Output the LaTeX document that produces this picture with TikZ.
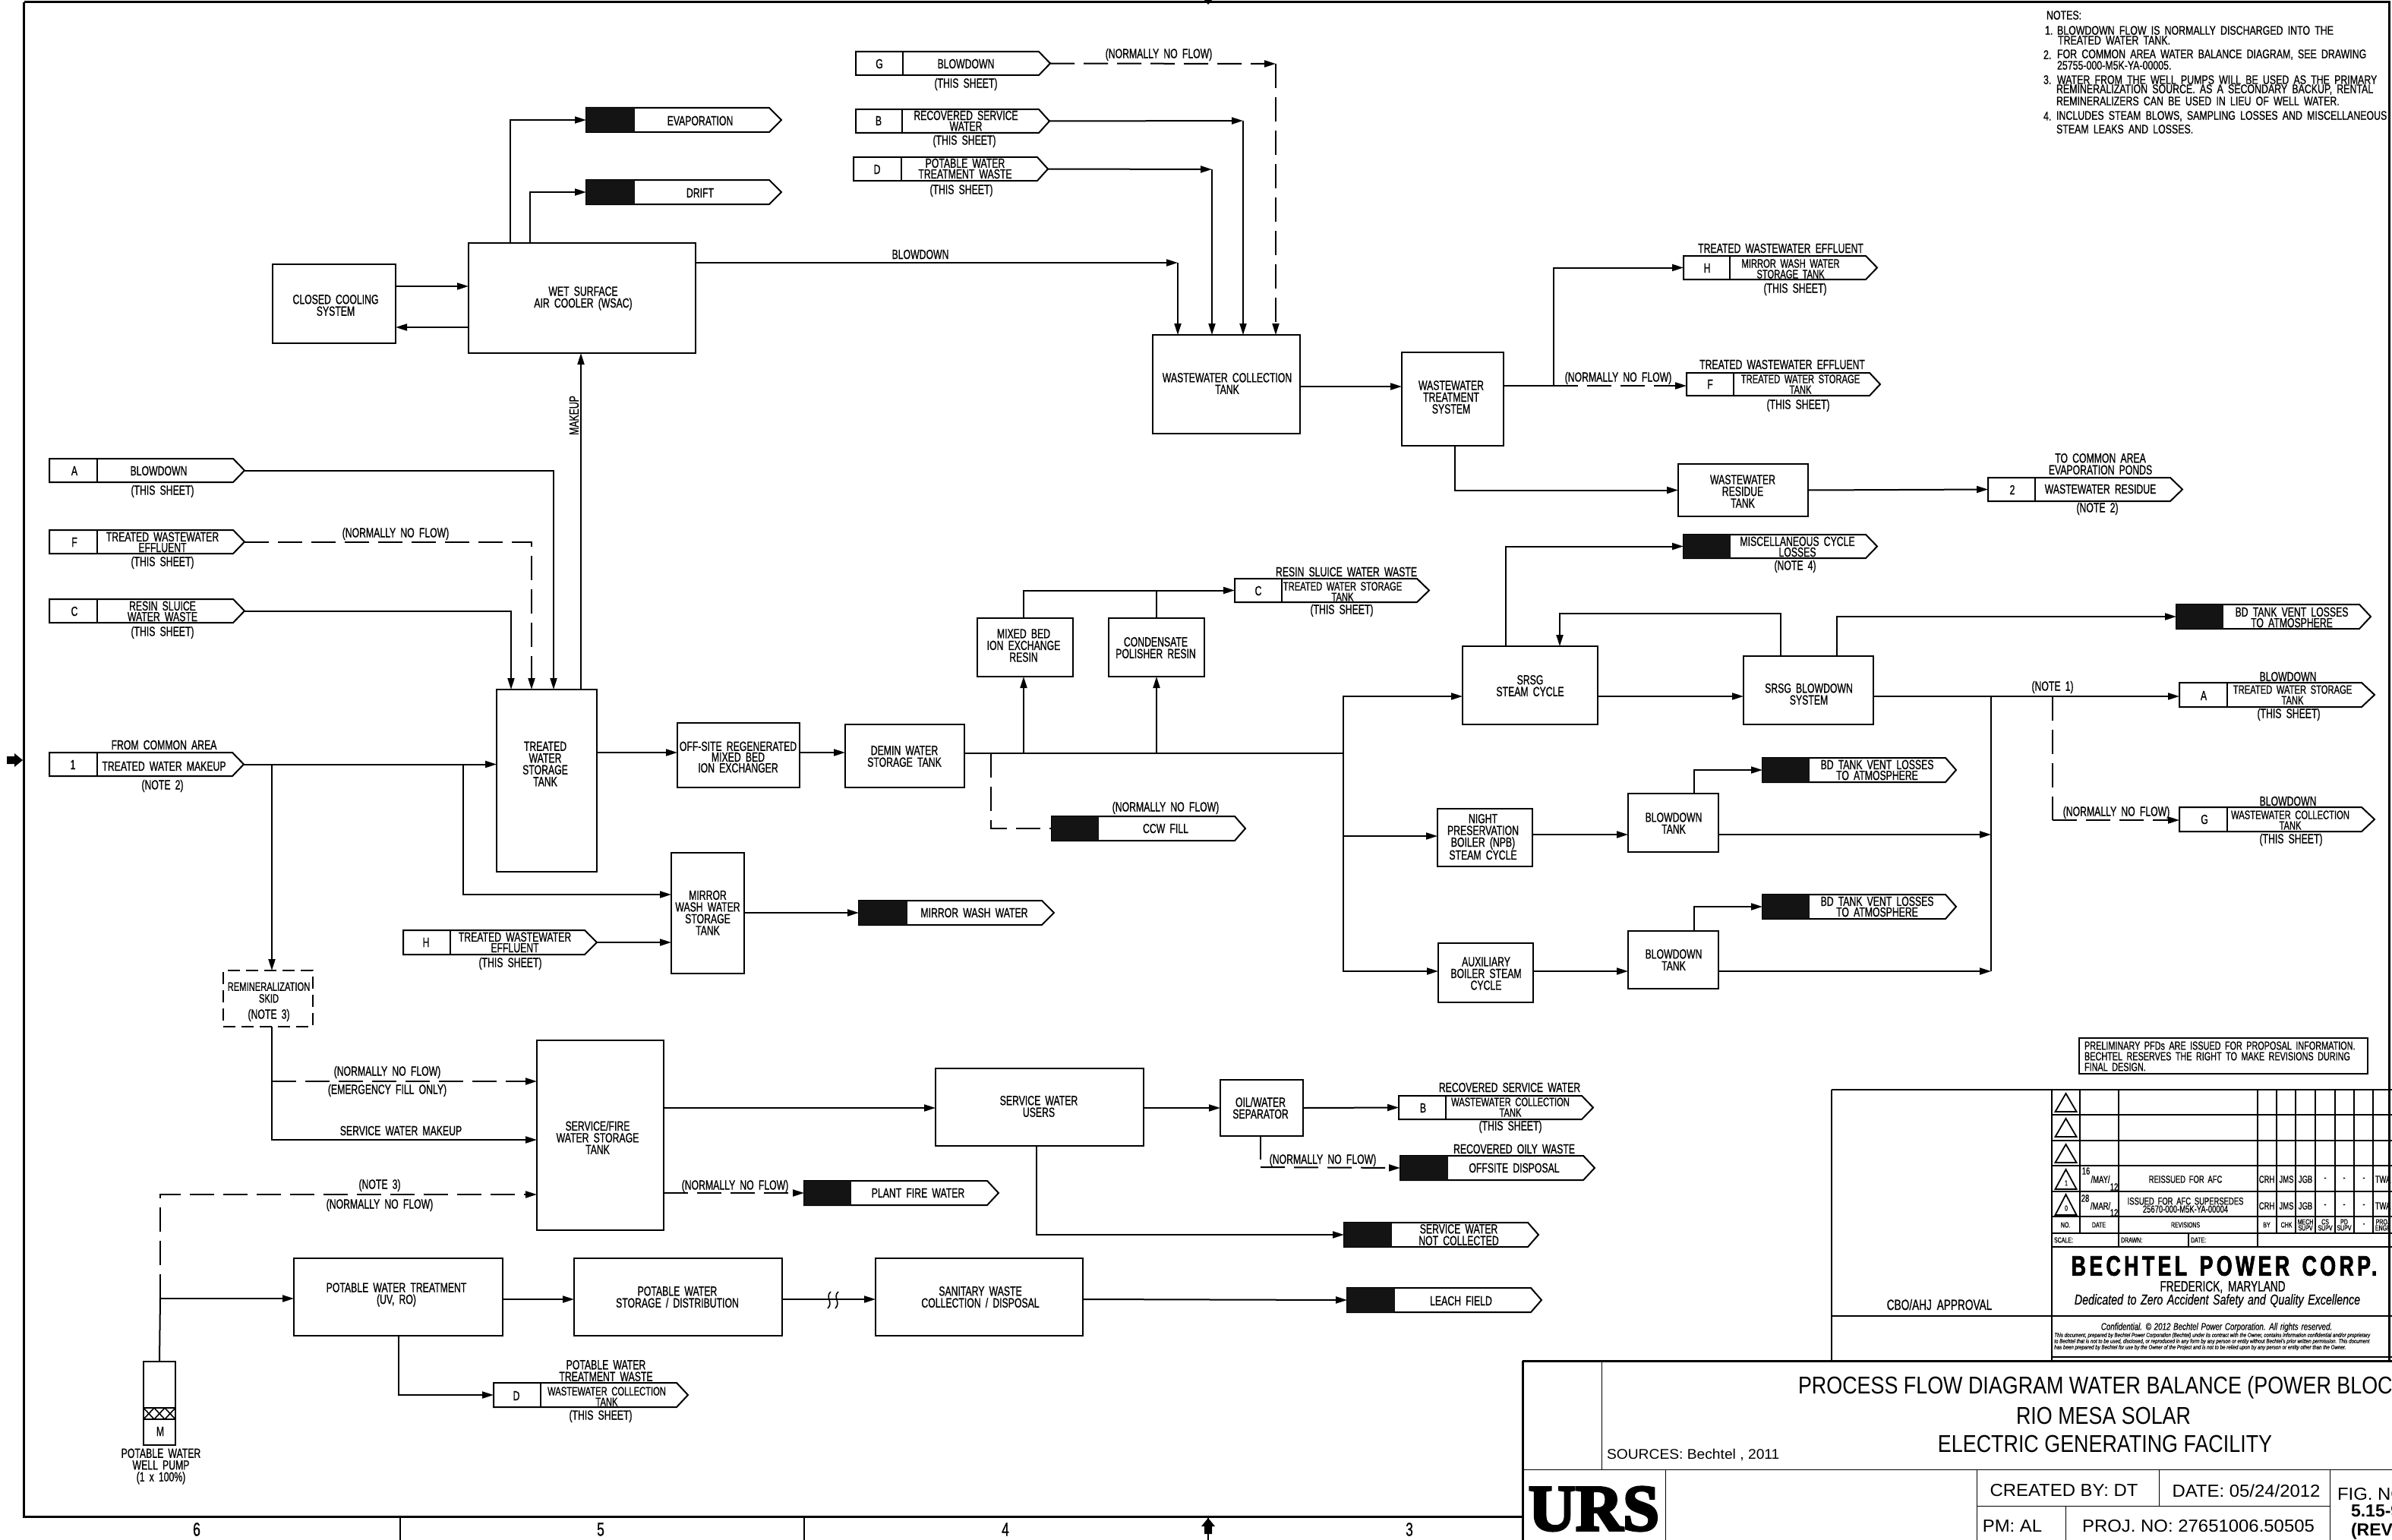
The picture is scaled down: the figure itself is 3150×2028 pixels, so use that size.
\documentclass[tikz,border=0pt]{standalone}
\usepackage{fontspec}
\usetikzlibrary{arrows.meta}
\newfontfamily\cad[FakeStretch=0.7,WordSpace=1.8,FakeBold=0.8]{Liberation Sans}
\newfontfamily\cadn[FakeStretch=0.75,WordSpace=1.8,FakeBold=0.8]{Liberation Sans}
\newfontfamily\ttl[FakeStretch=0.84]{Liberation Sans}
\newfontfamily\ttlc[FakeStretch=1.04]{Liberation Sans}
\newfontfamily\ttlb[FakeStretch=1.0]{Liberation Sans Bold}
\newfontfamily\ital[FakeStretch=0.75,WordSpace=1.4,FakeBold=0.6]{Liberation Sans Italic}
\newfontfamily\smli[FakeStretch=0.83,FakeBold=0.6]{Liberation Sans Italic}
\newfontfamily\bech[FakeStretch=0.72,LetterSpace=12,WordSpace=1.4,FakeBold=2]{Liberation Sans Bold}
\newfontfamily\urs[FakeBold=4]{Liberation Serif Bold}
\newcounter{tn}
\tikzset{
  x=1pt,y=-1pt,
  pbox/.style={draw,line width=2pt,inner sep=0pt,outer sep=0pt,fill=white},
  ghost/.style={inner sep=0pt,outer sep=0pt},
  pline/.style={line width=2pt,line join=miter},
  plain/.style={line width=2pt},
  flow/.style={line width=2pt,-{Triangle[length=15pt,width=9pt]}},
  dflow/.style={line width=2pt,dash pattern=on 32pt off 12pt,-{Triangle[length=15pt,width=9pt]}},
  dline/.style={line width=2pt,dash pattern=on 32pt off 12pt},
  lbl/.style={inner sep=0pt,outer sep=0pt,align=center,font=\cad\fontsize{17.5}{15.5}\selectfont},
  plbl/.style={inner sep=0pt,outer sep=0pt,align=center,font=\cad\fontsize{17.5}{14.2}\selectfont},
  slbl/.style={inner sep=0pt,outer sep=0pt,align=center,font=\cad\fontsize{16}{15.5}\selectfont},
  olbl/.style={inner sep=0pt,outer sep=0pt,align=center,font=\cad\fontsize{16}{14}\selectfont},
  nlbl/.style={inner sep=0pt,outer sep=0pt,anchor=west,font=\cadn\fontsize{16.5}{14}\selectfont},
  prlbl/.style={inner sep=0pt,outer sep=0pt,anchor=west,font=\cad\fontsize{15.5}{14}\selectfont},
  tlbl/.style={inner sep=0pt,outer sep=0pt,align=center,font=\cad\fontsize{13.5}{10.5}\selectfont},
  hlbl/.style={inner sep=0pt,outer sep=0pt,align=center,font=\cad\fontsize{10}{8}\selectfont},
  ttext/.style={inner sep=0pt,outer sep=0pt,font=\ttl\fontsize{32}{36}\selectfont},
  stext/.style={inner sep=0pt,outer sep=0pt,font=\ttlc\fontsize{23}{25}\selectfont},
  rule/.style={line width=1pt},
  trule/.style={line width=3pt},
  grid/.style={line width=1.6pt},
}
\newcommand{\BX}[6][]{\pgfmathsetmacro\bw{#5-#3}\pgfmathsetmacro\bh{#6-#4}%
  \node[pbox,minimum width=\bw pt,minimum height=\bh pt,#1] (#2) at ({(#3+#5)/2},{(#4+#6)/2}) {};}
\newcommand{\GH}[7]{\pgfmathsetmacro\bw{#5-#2}\pgfmathsetmacro\bh{#7-#6}%
  \node[ghost,minimum width=\bw pt,minimum height=\bh pt] (#1) at ({(#2+#5)/2},{(#6+#7)/2}) {};}
% name, x0, xdiv, xshoulder, xtip, y0, y1
\newcommand{\OP}[7]{\GH{#1}{#2}{#3}{#4}{#5}{#6}{#7}%
  \draw[pline] (#2,#6)--(#4,#6)--(#5,{(#6+#7)/2})--(#4,#7)--(#2,#7)--cycle;
  \draw[line width=1.6pt] (#3,#6)--(#3,#7);}
\newcommand{\OB}[7]{\GH{#1}{#2}{#3}{#4}{#5}{#6}{#7}%
  \draw[pline] (#2,#6)--(#4,#6)--(#5,{(#6+#7)/2})--(#4,#7)--(#2,#7)--cycle;
  \fill[black!92] (#2,#6) rectangle (#3,#7);}
\newcommand{\T}[3]{\stepcounter{tn}\node[lbl] (t\thetn) at (#1,#2) {#3};}
\newcommand{\TP}[3]{\stepcounter{tn}\node[plbl] (t\thetn) at (#1,#2) {#3};}
\newcommand{\TS}[3]{\stepcounter{tn}\node[slbl] (t\thetn) at (#1,#2) {#3};}
\newcommand{\TO}[3]{\stepcounter{tn}\node[olbl] (t\thetn) at (#1,#2) {#3};}
\newcommand{\TN}[3]{\stepcounter{tn}\node[nlbl] (t\thetn) at (#1,#2) {#3};}
\newcommand{\TR}[3]{\stepcounter{tn}\node[prlbl] (t\thetn) at (#1,#2) {#3};}
\newcommand{\TT}[3]{\stepcounter{tn}\node[tlbl] (t\thetn) at (#1,#2) {#3};}
\newcommand{\THD}[3]{\stepcounter{tn}\node[hlbl] (t\thetn) at (#1,#2) {#3};}
\begin{document}
\begin{tikzpicture}
\useasboundingbox (0,0) rectangle (3150,2028);
\clip (0,0) rectangle (3150,2028);
% ---- frame
\draw[trule] (31.5,3)--(3146,3)--(3146,1791);
\draw[trule] (31.5,3)--(31.5,1997)--(2005,1997);
\draw[line width=2pt] (527,1997)--(527,2028) (1059,1997)--(1059,2028) (1591,1997)--(1591,2028);
\stepcounter{tn}\node[lbl,font=\cad\fontsize{25}{26}\selectfont] (t\thetn) at (259,2014) {6};
\stepcounter{tn}\node[lbl,font=\cad\fontsize{25}{26}\selectfont] (t\thetn) at (791,2014) {5};
\stepcounter{tn}\node[lbl,font=\cad\fontsize{25}{26}\selectfont] (t\thetn) at (1324,2014) {4};
\stepcounter{tn}\node[lbl,font=\cad\fontsize{25}{26}\selectfont] (t\thetn) at (1856,2014) {3};
\fill (9,996)--(19,996)--(19,992)--(30,1001)--(19,1010)--(19,1006)--(9,1006)--cycle;
\fill (1586,2020)--(1586,2010)--(1582,2010)--(1591,1999)--(1600,2010)--(1596,2010)--(1596,2020)--cycle;
\fill (1586,0)--(1596,0)--(1591,6)--cycle;
% ---- process boxes
\BX{tank}{654}{908}{786}{1148}
\BX{wsac}{617}{320}{916}{465}
\BX{closed}{359}{348}{521}{452}
\BX{offsite}{892}{952}{1053}{1037}
\BX{demin}{1113}{954}{1270}{1037}
\BX{mirror}{884}{1123}{980}{1282}
\BX[dash pattern=on 16pt off 8pt]{skid}{294}{1278}{412}{1352}
\BX{svc}{707}{1370}{874}{1620}
\BX{users}{1232}{1407}{1506}{1509}
\BX{ows}{1607}{1422}{1716}{1496}
\BX{ptreat}{387}{1657}{662}{1759}
\BX{pstor}{756}{1657}{1030}{1759}
\BX{sanit}{1153}{1657}{1426}{1759}
\BX{well}{189}{1793}{231}{1903}
\BX{wwc}{1518}{441}{1712}{571}
\BX{wwt}{1846}{464}{1980}{587}
\BX{resid}{2210}{611}{2381}{680}
\BX{mixed}{1287}{814}{1413}{891}
\BX{cond}{1460}{814}{1586}{891}
\BX{srsg}{1926}{851}{2104}{954}
\BX{bdsys}{2296}{864}{2467}{954}
\BX{npb}{1893}{1065}{2018}{1141}
\BX{aux}{1894}{1242}{2019}{1320}
\BX{bt1}{2144}{1045}{2263}{1122}
\BX{bt2}{2144}{1226}{2263}{1302}
% well pump hatch
\draw[line width=1.6pt] (189,1854)--(231,1854) (189,1869)--(231,1869)
 (189,1854)--(203,1869) (203,1854)--(189,1869) (203,1854)--(217,1869) (217,1854)--(203,1869) (217,1854)--(231,1869) (231,1854)--(217,1869);
% ---- off-page flags
\OP{op1}{65}{128}{306}{321}{991}{1022}
\OP{opA}{65}{128}{307}{322}{604}{635}
\OP{opF}{65}{128}{307}{322}{698}{729}
\OP{opC}{65}{128}{307}{322}{789}{820}
\OP{opH}{531}{593}{770}{786}{1225}{1257}
\OP{opG}{1127}{1189}{1368}{1383}{68}{99}
\OP{opB}{1127}{1188}{1368}{1382}{144}{175}
\OP{opD}{1124}{1187}{1366}{1380}{207}{238}
\OB{evap}{772}{836}{1013}{1029}{142}{174}
\OB{drift}{772}{836}{1013}{1029}{237}{269}
\OP{tH}{2217}{2278}{2457}{2472}{337}{368}
\OP{tF}{2221}{2283}{2462}{2476}{491}{521}
\OP{op2}{2618}{2680}{2858}{2874}{629}{660}
\OB{misc}{2217}{2279}{2457}{2472}{704}{735}
\OP{rC}{1626}{1688}{1866}{1882}{762}{793}
\OB{ccw}{1385}{1447}{1626}{1640}{1075}{1107}
\OB{bdv}{2866}{2928}{3107}{3122}{796}{828}
\OP{rA}{2870}{2933}{3110}{3127}{899}{931}
\OP{rG}{2870}{2933}{3110}{3127}{1063}{1095}
\OB{va}{2321}{2383}{2562}{2576}{998}{1030}
\OB{vb}{2321}{2383}{2562}{2576}{1178}{1210}
\OB{mww}{1131}{1195}{1372}{1388}{1186}{1218}
\OB{pfw}{1059}{1121}{1300}{1315}{1555}{1587}
\OP{rB}{1842}{1904}{2083}{2098}{1443}{1474}
\OB{offd}{1844}{1907}{2085}{2100}{1522}{1554}
\OB{snc}{1770}{1833}{2012}{2026}{1610}{1642}
\OB{leach}{1774}{1837}{2016}{2030}{1696}{1728}
\OP{bD}{650}{712}{891}{906}{1821}{1853}
% ---- junctions
\coordinate (j1) at (610,1007);
\coordinate (j2) at (358,1007);
\coordinate (j3) at (358,1424);
\coordinate (j4) at (211,1710);
\coordinate (gc) at (1680,84);
\coordinate (bc) at (1637,159);
\coordinate (dc) at (1596,223);
\coordinate (wc) at (1551,346);
\coordinate (wj) at (2046,508);
\coordinate (bus) at (1769,992);
\coordinate (dj) at (1305,992);
\coordinate (mj) at (1348,992);
\coordinate (cj) at (1523,992);
\coordinate (tj) at (1523,778);
\coordinate (rbus) at (2622,917);
\coordinate (dbus) at (2703,917);
\coordinate (dbc) at (2703,1080);
% ---- connectors
\draw[flow] (op1.east)--(tank.west|-op1.east);
\draw[flow] (j1)|-(mirror.west|-0,1178);
\draw[flow] (j2)--(j2|-skid.north);
\draw[flow] (j2|-skid.south)|-(svc.west|-0,1501);
\draw[dflow] (j3)--(svc.west|-j3);
\draw[flow] (opA.east)-|(729,0|-tank.north);
\draw[dflow] (opF.east)-|(700,0|-tank.north);
\draw[flow] (opC.east)-|(673,0|-tank.north);
\draw[flow] (765,0|-tank.north)--(765,0|-wsac.south);
\draw[flow] (closed.east|-0,377)--(wsac.west|-0,377);
\draw[flow] (wsac.west|-0,431)--(closed.east|-0,431);
\draw[flow] (672,0|-wsac.north)|-(evap.west);
\draw[flow] (698,0|-wsac.north)|-(drift.west);
\draw[flow] (wsac.east|-wc)--(wc);
\draw[flow] (wc)--(wc|-wwc.north);
\draw[dflow] (opG.east)--(gc);
\draw[dflow] (gc)--(gc|-wwc.north);
\draw[flow] (opB.east)--(bc);
\draw[flow] (bc)--(bc|-wwc.north);
\draw[flow] (opD.east)--(dc);
\draw[flow] (dc)--(dc|-wwc.north);
\draw[flow] (wwc.east|-0,509)--(wwt.west|-0,509);
\draw[plain] (wwt.east|-wj)--(wj);
\draw[flow] (wj)|-(tH.west);
\draw[dflow] (wj)--(tF.west|-wj);
\draw[flow] (1916,0|-wwt.south)|-(resid.west);
\draw[flow] (resid.east)--(op2.west);
\draw[flow] (tank.east|-0,991)--(offsite.west|-0,991);
\draw[flow] (offsite.east|-0,991)--(demin.west|-0,991);
\draw[plain] (demin.east|-bus)--(bus);
\draw[flow] (mj)--(mj|-mixed.south);
\draw[flow] (cj)--(cj|-cond.south);
\draw[flow] (mj|-mixed.north)|-(rC.west);
\draw[plain] (cj|-cond.north)--(tj);
\draw[dline] (dj)|-(ccw.west);
\draw[flow] (mirror.east|-0,1202)--(mww.west);
\draw[flow] (opH.east)--(mirror.west|-opH.east);
\draw[flow] (bus)|-(srsg.west|-0,917);
\draw[flow] (bus)|-(npb.west|-0,1101);
\draw[flow] (bus)|-(aux.west|-0,1279);
\draw[flow] (npb.east|-0,1099)--(bt1.west|-0,1099);
\draw[flow] (aux.east|-0,1279)--(bt2.west|-0,1279);
\draw[flow] (bt1.east|-0,1099)--(rbus|-0,1099);
\draw[flow] (bt2.east|-0,1279)--(rbus|-0,1279);
\draw[plain] (rbus)--(rbus|-0,1279);
\draw[flow] (2231,0|-bt1.north)|-(va.west);
\draw[flow] (2231,0|-bt2.north)|-(vb.west);
\draw[flow] (srsg.east|-0,917)--(bdsys.west|-0,917);
\draw[flow] (bdsys.east|-0,917)--(rA.west|-0,917);
\draw[dline] (dbus)--(dbc);
\draw[dflow] (dbc)--(rG.west|-dbc);
\draw[flow] (1983,0|-srsg.north)|-(misc.west);
\draw[flow] (2345,0|-bdsys.north)|-(2054,808)--(2054,0|-srsg.north);
\draw[flow] (2419,0|-bdsys.north)|-(bdv.west);
\draw[flow] (svc.east|-0,1459)--(users.west|-0,1459);
\draw[flow] (users.east|-0,1459)--(ows.west|-0,1459);
\draw[flow] (ows.east|-0,1459)--(rB.west);
\draw[plain] (1660,0|-ows.south)--(1660,1527);
\draw[dflow] (1660,1537)--(offd.west);
\draw[dflow] (svc.east|-pfw.west)--(pfw.west);
\draw[flow] (1365,0|-users.south)|-(snc.west);
\draw[flow] (sanit.east|-0,1711)--(leach.west);
\draw[flow] (pstor.east|-0,1711)--(sanit.west|-0,1711);
\draw[flow] (ptreat.east|-0,1711)--(pstor.west|-0,1711);
\draw[line width=1.6pt] (1094,1701) .. controls (1086,1708) and (1098,1715) .. (1090,1723);
\draw[line width=1.6pt] (1104,1701) .. controls (1096,1708) and (1108,1715) .. (1100,1723);
\draw[plain] (well.north)--(j4);
\draw[flow] (j4)--(ptreat.west|-j4);
\draw[dflow] (j4)|-(svc.west|-0,1573);
\draw[flow] (525,0|-ptreat.south)|-(bD.west);
% ---- texts: left side
\T{216}{981}{FROM COMMON AREA}\T{216}{1009}{TREATED WATER MAKEUP}\T{214}{1035}{(NOTE 2)}\T{96}{1007}{1}
\T{718}{1006}{TREATED\\WATER\\STORAGE\\TANK}
\TS{354}{1307}{REMINERALIZATION\\SKID}\T{354}{1337}{(NOTE 3)}
\TP{678}{1241}{TREATED WASTEWATER\\EFFLUENT}\T{672}{1269}{(THIS SHEET)}\T{561}{1241}{H}
\T{98}{620}{A}\T{209}{620}{BLOWDOWN}\T{214}{647}{(THIS SHEET)}
\T{98}{714}{F}\TP{214}{714}{TREATED WASTEWATER\\EFFLUENT}\T{214}{741}{(THIS SHEET)}\T{521}{703}{(NORMALLY NO FLOW)}
\T{98}{805}{C}\TP{214}{805}{RESIN SLUICE\\WATER WASTE}\T{214}{833}{(THIS SHEET)}
\T{922}{159}{EVAPORATION}\T{922}{254}{DRIFT}
\T{768}{393}{WET SURFACE\\AIR COOLER (WSAC)}\T{442}{402}{CLOSED COOLING\\SYSTEM}
\stepcounter{tn}\node[lbl,rotate=90] (t\thetn) at (756,547) {MAKEUP};
% top
\T{1158}{84}{G}\T{1272}{84}{BLOWDOWN}\T{1272}{111}{(THIS SHEET)}
\T{1157}{159}{B}\TP{1272}{159}{RECOVERED SERVICE\\WATER}\T{1270}{186}{(THIS SHEET)}
\T{1155}{223}{D}\TP{1271}{222}{POTABLE WATER\\TREATMENT WASTE}\T{1266}{251}{(THIS SHEET)}
\T{1526}{72}{(NORMALLY NO FLOW)}\T{1212}{335}{BLOWDOWN}
\T{1616}{505}{WASTEWATER COLLECTION\\TANK}\T{1911}{523}{WASTEWATER\\TREATMENT\\SYSTEM}
% upper right
\T{2345}{327}{TREATED WASTEWATER EFFLUENT}\T{2248}{353}{H}\TO{2358}{354}{MIRROR WASH WATER\\STORAGE TANK}\T{2364}{381}{(THIS SHEET)}
\T{2347}{480}{TREATED WASTEWATER EFFLUENT}\T{2252}{506}{F}\TO{2371}{506}{TREATED WATER STORAGE\\TANK}\T{2368}{534}{(THIS SHEET)}
\T{2131}{498}{(NORMALLY NO FLOW)}
\T{2295}{647}{WASTEWATER\\RESIDUE\\TANK}
\T{2766}{611}{TO COMMON AREA\\EVAPORATION PONDS}\T{2650}{645}{2}\T{2766}{644}{WASTEWATER RESIDUE}\T{2762}{670}{(NOTE 2)}
\TP{2367}{720}{MISCELLANEOUS CYCLE\\LOSSES}\T{2364}{746}{(NOTE 4)}
\T{2015}{903}{SRSG\\STEAM CYCLE}\T{2382}{914}{SRSG BLOWDOWN\\SYSTEM}
\TP{3018}{813}{BD TANK VENT LOSSES\\TO ATMOSPHERE}
\T{2703}{905}{(NOTE 1)}
\T{3013}{891}{BLOWDOWN}\T{2902}{916}{A}\TO{3019}{915}{TREATED WATER STORAGE\\TANK}\T{3014}{941}{(THIS SHEET)}
\T{3013}{1055}{BLOWDOWN}\T{2903}{1079}{G}\TO{3016}{1080}{WASTEWATER COLLECTION\\TANK}\T{3017}{1106}{(THIS SHEET)}
\T{2787}{1070}{(NORMALLY NO FLOW)}
\TP{2472}{1014}{BD TANK VENT LOSSES\\TO ATMOSPHERE}\TP{2472}{1194}{BD TANK VENT LOSSES\\TO ATMOSPHERE}
\T{2204}{1084}{BLOWDOWN\\TANK}\T{2204}{1264}{BLOWDOWN\\TANK}
\T{1348}{850}{MIXED BED\\ION EXCHANGE\\RESIN}\T{1522}{853}{CONDENSATE\\POLISHER RESIN}
\T{1773}{753}{RESIN SLUICE WATER WASTE}\T{1657}{778}{C}\TO{1768}{779}{TREATED WATER STORAGE\\TANK}\T{1767}{804}{(THIS SHEET)}
\T{1535}{1091}{CCW FILL}\T{1535}{1064}{(NORMALLY NO FLOW)}
\T{1953}{1102}{NIGHT\\PRESERVATION\\BOILER (NPB)\\STEAM CYCLE}
\T{1957}{1282}{AUXILIARY\\BOILER STEAM\\CYCLE}
\T{1191}{996}{DEMIN WATER\\STORAGE TANK}
\TP{972}{997}{OFF-SITE REGENERATED\\MIXED BED\\ION EXCHANGER}
\T{932}{1202}{MIRROR\\WASH WATER\\STORAGE\\TANK}
\T{1283}{1202}{MIRROR WASH WATER}
% lower
\T{510}{1412}{(NORMALLY NO FLOW)}\T{510}{1436}{(EMERGENCY FILL ONLY)}\T{528}{1489}{SERVICE WATER MAKEUP}
\T{787}{1498}{SERVICE/FIRE\\WATER STORAGE\\TANK}
\T{1368}{1457}{SERVICE WATER\\USERS}\T{1660}{1459}{OIL/WATER\\SEPARATOR}
\T{1988}{1432}{RECOVERED SERVICE WATER}\T{1874}{1459}{B}\TO{1989}{1458}{WASTEWATER COLLECTION\\TANK}\T{1989}{1484}{(THIS SHEET)}
\T{1742}{1528}{(NORMALLY NO FLOW)}\T{1994}{1513}{RECOVERED OILY WASTE}\T{1994}{1538}{OFFSITE DISPOSAL}
\T{1209}{1571}{PLANT FIRE WATER}\T{968}{1562}{(NORMALLY NO FLOW)}
\T{1921}{1626}{SERVICE WATER\\NOT COLLECTED}
\T{892}{1708}{POTABLE WATER\\STORAGE / DISTRIBUTION}\T{1291}{1708}{SANITARY WASTE\\COLLECTION / DISPOSAL}
\T{1924}{1713}{LEACH FIELD}\T{522}{1705}{POTABLE WATER TREATMENT\\(UV, RO)}
\T{211}{1885}{M}\T{212}{1931}{POTABLE WATER\\WELL PUMP\\(1 x 100\%)}
\T{500}{1561}{(NOTE 3)}\T{500}{1587}{(NORMALLY NO FLOW)}
\T{798}{1805}{POTABLE WATER\\TREATMENT WASTE}\T{680}{1838}{D}\TO{799}{1839}{WASTEWATER COLLECTION\\TANK}\T{791}{1865}{(THIS SHEET)}
% ---- notes
\TN{2695}{20}{NOTES:}
\TN{2693}{40}{1.}\TN{2709}{40}{BLOWDOWN FLOW IS NORMALLY DISCHARGED INTO THE}\TN{2710}{53}{TREATED WATER TANK.}
\TN{2691}{72}{2.}\TN{2709}{72}{FOR COMMON AREA WATER BALANCE DIAGRAM, SEE DRAWING}\TN{2709}{86}{25755-000-M5K-YA-00005.}
\TN{2691}{105}{3.}\TN{2709}{105}{WATER FROM THE WELL PUMPS WILL BE USED AS THE PRIMARY}\TN{2708}{118}{REMINERALIZATION SOURCE. AS A SECONDARY BACKUP, RENTAL}\TN{2708}{133}{REMINERALIZERS CAN BE USED IN LIEU OF WELL WATER.}
\TN{2691}{153}{4.}\TN{2708}{153}{INCLUDES STEAM BLOWS, SAMPLING LOSSES AND MISCELLANEOUS}\TN{2708}{170}{STEAM LEAKS AND LOSSES.}
% ---- preliminary box
\BX{prel}{2738}{1367}{3118}{1414}
\TR{2745}{1377}{PRELIMINARY PFDs ARE ISSUED FOR PROPOSAL INFORMATION.}\TR{2745}{1391}{BECHTEL RESERVES THE RIGHT TO MAKE REVISIONS DURING}\TR{2745}{1405}{FINAL DESIGN.}
% ---- revision block
\draw[trule,line width=2.4pt] (2412,1435)--(3150,1435) (2412,1435)--(2412,1791);
\draw[grid] (2702,1435)--(2702,1791) (2412,1733)--(3150,1733);
\draw[grid] (2702,1468)--(3150,1468) (2702,1502)--(3150,1502) (2702,1535)--(3150,1535) (2702,1569)--(3150,1569) (2702,1602)--(3150,1602) (2702,1624)--(3150,1624) (2702,1642)--(3150,1642) (2702,1787)--(3150,1787);
\foreach \vx in {2739,2790,2973,2998,3023,3049,3075,3100,3125}{\draw[grid] (\vx,1435)--(\vx,1624);}
\draw[grid] (2790,1624)--(2790,1642) (2882,1624)--(2882,1642) (2973,1624)--(2973,1642);
\foreach \ya/\yb in {1440/1464,1473/1497,1507/1531,1540/1566,1573/1600}{\draw[line width=1.8pt] (2720.5,\ya)--(2734.5,\yb)--(2706.5,\yb)--cycle;}
\THD{2721}{1558}{1}\THD{2721}{1591}{0}
\TT{2747}{1542}{16}\TT{2766}{1553}{/MAY/}\TT{2784}{1563}{12}
\TT{2746}{1578}{28}\TT{2766}{1588}{/MAR/}\TT{2784}{1597}{12}
\TT{2878}{1553}{REISSUED FOR AFC}\TT{2878}{1587}{ISSUED FOR AFC SUPERSEDES\\25670-000-M5K-YA-00004}
\TT{2985}{1553}{CRH}\TT{3011}{1553}{JMS}\TT{3036}{1553}{JGB}\TT{3062}{1553}{-}\TT{3087}{1553}{-}\TT{3113}{1553}{-}\TT{3138}{1553}{TWA}
\TT{2985}{1588}{CRH}\TT{3011}{1588}{JMS}\TT{3036}{1588}{JGB}\TT{3062}{1588}{-}\TT{3087}{1588}{-}\TT{3113}{1588}{-}\TT{3138}{1588}{TWA}
\THD{2720}{1613}{NO.}\THD{2764}{1613}{DATE}\THD{2878}{1613}{REVISIONS}\THD{2985}{1613}{BY}\THD{3011}{1613}{CHK}\THD{3036}{1613}{MECH\\SUPV}\THD{3062}{1613}{CS\\SUPV}\THD{3087}{1613}{PD\\SUPV}\THD{3113}{1613}{-}\THD{3138}{1613}{PROJ\\ENGR}
\stepcounter{tn}\node[hlbl,anchor=west] (t\thetn) at (2705,1633) {SCALE:};
\stepcounter{tn}\node[hlbl,anchor=west] (t\thetn) at (2793,1633) {DRAWN:};
\stepcounter{tn}\node[hlbl,anchor=west] (t\thetn) at (2885,1633) {DATE:};
\node[inner sep=0pt,font=\bech\fontsize{37}{38}\selectfont] (bech) at (2929,1667) {BECHTEL POWER CORP.};
\node[inner sep=0pt,font=\cad\fontsize{19.5}{20}\selectfont] (fred) at (2927,1695) {FREDERICK, MARYLAND};
\node[inner sep=0pt,font=\ital\fontsize{19}{20}\selectfont] (ded) at (2920,1713) {Dedicated to Zero Accident Safety and Quality Excellence};
\node[lbl,font=\cad\fontsize{19.5}{20}\selectfont] (cbo) at (2554,1718) {CBO/AHJ APPROVAL};
\node[inner sep=0pt,font=\ital\fontsize{13}{14}\selectfont] (conf) at (2919,1748) {Confidential. \textcopyright\ 2012 Bechtel Power Corporation. All rights reserved.};
\node[inner sep=0pt,anchor=north west,align=left,font=\smli\fontsize{7.5}{6}\selectfont] (small) at (2705,1755) {This document, prepared by Bechtel Power Corporation (Bechtel) under its contract with the Owner, contains information confidential and/or proprietary\\to Bechtel that is not to be used, disclosed, or reproduced in any form by any person or entity without Bechtel's prior written permission. This document\\has been prepared by Bechtel for use by the Owner of the Project and is not to be relied upon by any person or entity other than the Owner.};
% ---- title block
\draw[trule] (2005,1792)--(3150,1792) (2005,1792)--(2005,2028);
\draw[rule] (2109,1792)--(2109,1935) (2005,1935)--(3150,1935) (2193,1935)--(2193,2028) (2603,1935)--(2603,2028) (2603,1983)--(3068,1983) (2843,1935)--(2843,1983) (2720,1983)--(2720,2028) (3068,1935)--(3068,2028);
\node[ttext,anchor=west] (tt1) at (2368,1827) {PROCESS FLOW DIAGRAM WATER BALANCE (POWER BLOC};
\node[ttext] (tt2) at (2770,1864) {RIO MESA SOLAR};
\node[ttext] (tt3) at (2772,1901) {ELECTRIC GENERATING FACILITY};
\node[stext,anchor=west,font=\ttlc\fontsize{18.5}{20}\selectfont] (src) at (2116,1916) {SOURCES: Bechtel , 2011};
\node[stext] (cr) at (2718,1963) {CREATED BY: DT};
\node[stext] (dt) at (2958,1963) {DATE: 05/24/2012};
\node[stext] (pm) at (2650,2010) {PM: AL};
\node[stext] (pj) at (2895,2010) {PROJ. NO: 27651006.50505};
\node[stext,anchor=west] (fg) at (3078,1968) {FIG. NO};
\node[stext,anchor=west,font=\ttlb\fontsize{23}{25}\selectfont] (fn) at (3096,1990) {5.15-9};
\node[stext,anchor=west,font=\ttlb\fontsize{23}{25}\selectfont] (rv) at (3096,2017) {(REV};
\node[inner sep=0pt,font=\urs\fontsize{86}{88}\selectfont] (urs) at (2099,1987) {URS};
\end{tikzpicture}
\end{document}
